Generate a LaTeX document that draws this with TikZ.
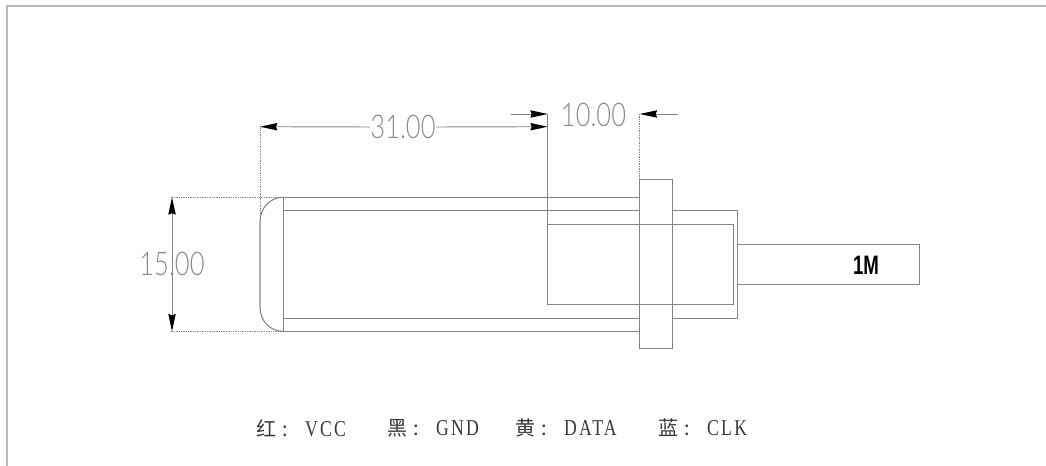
\documentclass[tikz,border=0pt]{standalone}
\usepackage{fontspec}
\usetikzlibrary{arrows.meta}
\setmainfont{Liberation Sans}
\newfontfamily\cadfont[FakeStretch=0.78]{Lato Light}
\newfontfamily\capfont[FakeStretch=0.78,LetterSpace=10]{Liberation Serif}
\newfontfamily\cjk{Noto Sans CJK SC}
\definecolor{linegray}{gray}{0.52}
\definecolor{dimgray}{gray}{0.55}
\definecolor{framegray}{gray}{0.72}
\definecolor{textgray}{gray}{0.22}
\tikzset{
  x=0.75pt,y=-0.75pt,
  part/.style={draw=linegray,line width=0.8pt},
  ext/.style={draw=linegray,line width=0.5pt,dash pattern=on 0.7pt off 0.6pt},
  dimline/.style={draw=linegray,line width=0.7pt},
  tip/.style={-{Stealth[length=13pt,width=5.5pt,inset=1pt,color=black]}},
  tiptwo/.style={{Stealth[length=13pt,width=5.5pt,inset=1pt,color=black]}-{Stealth[length=13pt,width=5.5pt,inset=1pt,color=black]}},
  dimtext/.style={inner sep=0pt,text=dimgray,font=\cadfont\fontsize{24.5pt}{26pt}\selectfont},
  captext/.style={anchor=west,inner sep=0pt,text=textgray,font=\fontsize{17pt}{18pt}\selectfont},
}
\newcommand{\capline}[2]{{\cjk\fontsize{15pt}{16pt}\selectfont #1\hspace{4.5pt}:\hspace{13pt}}{\capfont #2}}
\begin{document}
\begin{tikzpicture}
\useasboundingbox (0,0) rectangle (1046,466);
% sheet frame
\draw[framegray,line width=0.9pt] (7,466) -- (7,6) -- (1046,6);
% named reference points
\coordinate (a31L) at (260,126.7);
\coordinate (a31R) at (547.7,126.7);
\coordinate (a15T) at (172,197.3);
\coordinate (a15B) at (172,331.3);
% extension lines
\draw[ext] (a31L) -- (260,222);
\draw[ext] (170.5,197.3) -- (283.3,197.3);
\draw[ext] (170.5,331.3) -- (283.3,331.3);
\draw[ext] (639.7,114) -- (639.7,179.3);
% tube cap
\draw[part] (283.3,197.3) .. controls (270,197.3) and (260,208) .. (260,222)
  -- (260,307) .. controls (260,321) and (270,331.3) .. (283.3,331.3);
\draw[part] (283.3,197.3) -- (283.3,331.3);
% tube
\draw[part] (283.3,197.3) -- (639.7,197.3);
\draw[part] (283.3,210.7) -- (639.7,210.7);
\draw[part] (283.3,318.3) -- (639.7,318.3);
\draw[part] (283.3,331.3) -- (639.7,331.3);
% flange
\draw[part] (639.7,179.3) rectangle (672.3,348.7);
% rear housing
\draw[part] (672.3,210.7) -- (737.7,210.7) -- (737.7,318.3) -- (672.3,318.3);
% inner body and its dimension line
\draw[part] (547.7,114) -- (547.7,304.3) -- (733.3,304.3) -- (733.3,224.3) -- (547.7,224.3);
% cable
\draw[part] (737.7,244.3) -- (919.3,244.3) -- (919.3,284.3) -- (737.7,284.3);
\node[inner sep=0pt,text=black,font=\bfseries\fontsize{20pt}{22pt}\selectfont,xscale=0.7] (cablelabel) at (866,265) {1M};
% dimension 31.00
\node[dimtext] (d31) at (403,127) {31.00};
\draw[dimline,tip] (d31.west) -- (a31L);
\draw[dimline,tip] (d31.east) -- (a31R);
% dimension 15.00
\draw[dimline,tiptwo] (a15T) -- (a15B);
\node[dimtext] (d15) at (172,264) {15.00};
% dimension 10.00
\node[dimtext] (d10) at (593.5,115) {10.00};
\coordinate (t10L) at (510.7,114);
\coordinate (h10L) at (547.7,114);
\coordinate (t10R) at (677.7,114);
\coordinate (h10R) at (639.7,114);
\draw[dimline,tip] (t10L) -- (h10L);
\draw[dimline,tip] (t10R) -- (h10R);
% caption
\node[captext] (c1) at (256,428) {\capline{红}{VCC}};
\node[captext] (c2) at (387,428) {\capline{黑}{GND}};
\node[captext] (c3) at (515,428) {\capline{黄}{DATA}};
\node[captext] (c4) at (658,428) {\capline{蓝}{CLK}};
\end{tikzpicture}
\end{document}
